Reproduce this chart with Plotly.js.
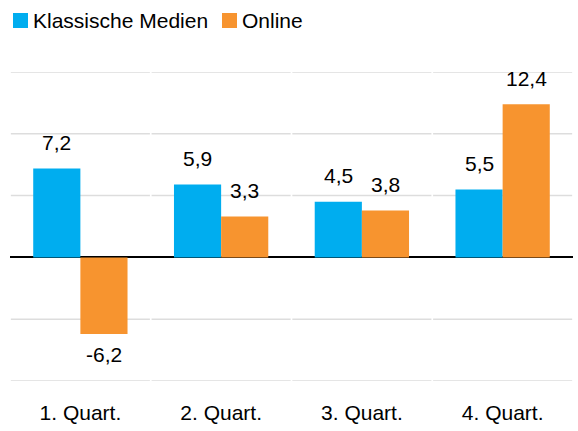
<!DOCTYPE html>
<html><head><meta charset="utf-8">
<script src="https://cdn.plot.ly/plotly-3.0.1.min.js"></script>
<style>html,body{margin:0;padding:0;background:#fff}#chart{width:578px;height:431px}</style>
</head><body><div id="chart"></div>
<script>
var categories = ["1. Quart.", "2. Quart.", "3. Quart.", "4. Quart."];
var seriesNames = ["Klassische Medien", "Online"];
var klassisch = [7.2, 5.9, 4.5, 5.5];
var online = [-6.2, 3.3, 3.8, 12.4];
var gridValues = [-10, -5, 5, 10, 15];

var colors = ["#00ADEF", "#F7942F"];
var fontFam = "Liberation Sans, Arial, sans-serif";
var FS = 21;
var fmt = function(v){ return v.toFixed(1).replace(".", ","); };

var W = 578, H = 431, M = {l:10, r:5, t:72, b:50};
var px2x = function(p){ return (p - M.l) / (W - M.l - M.r); };
var px2y = function(p){ return (H - M.b - p) / (H - M.t - M.b); };

var traces = [klassisch, online].map(function(vals, k){
  return {type:"bar", name:seriesNames[k], x:categories, y:vals,
    marker:{color:colors[k]}, hoverinfo:"skip", showlegend:false};
});

var annotations = [];
var shapes = [];
var off = 0.1675;
[klassisch, online].forEach(function(vals, k){
  vals.forEach(function(v, i){
    annotations.push({x:i + (k===0?-off:off), y:v, xref:"x", yref:"y",
      text:fmt(v), showarrow:false, yshift: v>=0 ? 26 : -20,
      font:{family:fontFam, size:FS, color:"#000"}});
  });
});

// legend (custom, to match the reference spacing)
var legendX = [13, 222];
seriesNames.forEach(function(n, k){
  var x0 = legendX[k];
  shapes.push({type:"rect", xref:"paper", yref:"paper", x0:px2x(x0), x1:px2x(x0+15),
    y0:px2y(13), y1:px2y(28), fillcolor:colors[k], line:{width:0}});
  annotations.push({xref:"paper", yref:"paper", x:px2x(x0+18), y:px2y(20.5),
    xanchor:"left", yanchor:"middle", showarrow:false, text:n,
    font:{family:fontFam, size:FS, color:"#000"}});
});

gridValues.forEach(function(g){
  categories.forEach(function(c, i){
    shapes.push({type:"line", xref:"x", yref:"y", x0:i-0.5+0.006, x1:i+0.5-0.006, y0:g, y1:g,
      line:{color:"#DDDDDD", width:1.5}, layer:"below"});
  });
});

var layout = {
  width:W, height:H,
  margin:M,
  paper_bgcolor:"#fff", plot_bgcolor:"#fff",
  barmode:"group", bargap:0.33, bargroupgap:0,
  font:{family:fontFam, size:FS, color:"#000"},
  showlegend:false,
  xaxis:{type:"category", showgrid:false, zeroline:false, showline:false, ticks:"",
    tickfont:{family:fontFam, size:FS, color:"#000"}, ticklabelstandoff:17, fixedrange:true},
  yaxis:{range:[-10, 15], showgrid:false, zeroline:true, zerolinecolor:"#000", zerolinewidth:2,
    showticklabels:false, ticks:"", showline:false, fixedrange:true},
  annotations:annotations,
  shapes:shapes
};
Plotly.newPlot("chart", traces, layout, {displayModeBar:false, staticPlot:true});
</script></body></html>
